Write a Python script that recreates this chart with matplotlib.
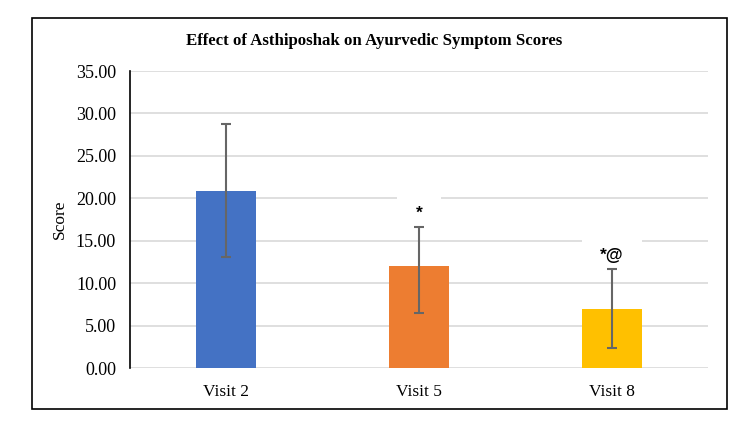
# Bar chart: Ayurvedic symptom scores across visits (mean +/- SD)

import matplotlib
matplotlib.use("Agg")
import matplotlib.pyplot as plt
from matplotlib.patches import Rectangle

# DATA ------------------------------------------------
visits = ["Visit 2", "Visit 5", "Visit 8"]
mean_score = [20.9, 12.0, 7.0]
err_low = [7.8, 5.5, 4.65]
err_high = [7.9, 4.65, 4.7]
marks = ["", "*", "*@"]

bar_colors = ["#4472C4", "#ED7D31", "#FFC000"]
y_ticks = [0, 5, 10, 15, 20, 25, 30, 35]

plt.rcParams["font.family"] = ["Liberation Serif", "DejaVu Serif"]

fig = plt.figure(figsize=(7.5, 4.23), dpi=100)

# outer chart frame
fig.patches.append(Rectangle((32 / 750, 14 / 423), 695 / 750, 391 / 423,
                             transform=fig.transFigure, fill=False,
                             edgecolor="black", linewidth=1.2))

ax = fig.add_axes([130 / 750, 55 / 423, 578 / 750, 297 / 423])

x = list(range(len(visits)))
ax.bar(x, mean_score, width=0.31, color=bar_colors, zorder=2)
ax.errorbar(x, mean_score, yerr=[err_low, err_high], fmt="none",
            ecolor="#666666", elinewidth=1.5, capsize=3.5, capthick=1.5,
            zorder=4)

# significance marks sit on white label boxes that cut the gridlines
for i, m in enumerate(marks):
    if not m:
        continue
    ax.annotate(m, xy=(x[i], mean_score[i] + err_high[i]),
                xytext=(0, 9.5), textcoords="offset points",
                ha="center", va="center", fontsize=12.5, fontweight="bold",
                family=["Liberation Sans", "DejaVu Sans"],
                bbox=dict(boxstyle="square,pad=1.05", facecolor="white",
                          edgecolor="none"),
                zorder=3)

ax.set_xlim(-0.5, 2.5)
ax.set_ylim(0, 35)
ax.set_yticks(y_ticks)
ax.set_yticklabels([f"{v:.2f}" for v in y_ticks], fontsize=13)
ax.set_xticks(x)
ax.set_xticklabels(visits, fontsize=12.5)
ax.tick_params(axis="both", length=0)
ax.tick_params(axis="y", pad=10)
ax.tick_params(axis="x", pad=11.5)

ax.yaxis.grid(True, color="#D9D9D9", linewidth=1.2, zorder=0)
ax.set_axisbelow(True)
for side in ["top", "right", "bottom"]:
    ax.spines[side].set_visible(False)
ax.spines["left"].set_color("black")
ax.spines["left"].set_linewidth(1.2)

ax.set_ylabel("Score", fontsize=12.5, labelpad=6)
fig.text(374 / 750, 1 - 41 / 423, "Effect of Asthiposhak on Ayurvedic Symptom Scores",
         ha="center", va="center", fontsize=12.1, fontweight="bold")

fig.savefig("out.png", dpi=100)
